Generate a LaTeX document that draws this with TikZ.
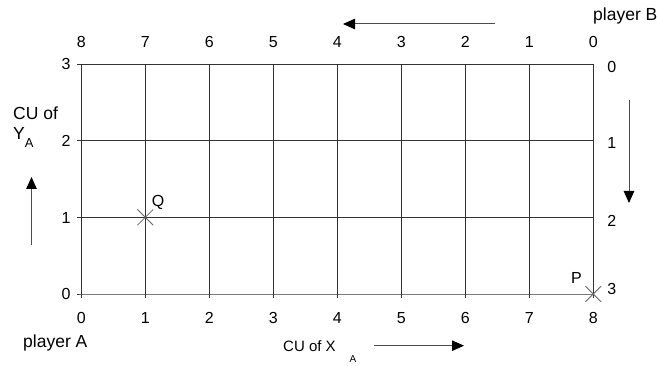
\documentclass[tikz,border=0pt]{standalone}
\usepackage{fontspec}
\setmainfont{Liberation Sans}
\usetikzlibrary{arrows.meta,positioning,shapes.misc}
\tikzset{
  num/.style={font=\fontsize{16}{18}\selectfont, inner sep=0pt, text height=11.5pt, text depth=0pt},
  lbl/.style={font=\fontsize{17.5}{20}\selectfont, inner sep=0pt, anchor=base west},
  gridln/.style={draw=black!80, line width=0.9pt},
  arr/.style={-{Triangle[length=12pt,width=10.5pt,color=black]}, draw=black!70, line width=1pt},
  xmark/.style={cross out, draw=black!60, minimum size=15pt, inner sep=0pt, line width=0.8pt},
}

\begin{document}
\begin{tikzpicture}[x=1pt,y=-1pt]
  \useasboundingbox (0,0) rectangle (657,366);
  % the box of bundles, in units of X_A and Y_A
  \begin{scope}[shift={(81.3,294)},x=64pt,y=76.67pt]
    \foreach \i in {0,...,8}
      \draw[gridln] (\i,3) -- (\i,0) -- ++(0,-4pt);
    \foreach \j in {0,...,3}
      \draw[gridln] (8,\j) -- (0,\j) -- ++(-4pt,0);
    \foreach \i in {0,...,8} {
      \pgfmathtruncatemacro\k{8-\i}
      \node[num, yshift=-23.5pt] (b\i) at (\i,0) {\i};
      \node[num, yshift=22pt] (t\k) at (\i,3) {\k};
    }
    \foreach \j in {0,...,3}
      \node[num, xshift=-15.3pt] (l\j) at (0,\j) {\j};
    \foreach \k/\dy in {0/-3,1/-2.5,2/-3,3/5}
      \node[num, xshift=18.5pt, yshift=\dy pt] (r\k) at (8,{3-\k}) {\k};
    \node[xmark] (Qx) at (1,1) {};
    \node[xmark] (Px) at (8,0) {};
  \end{scope}
  \node[num] (Q) at (158,200.5) {Q};
  \node[num] (P) at (576.5,277.5) {P};

  % players and axes
  \node[lbl] (plB) at (593,21) {player B};
  \node[lbl] (plA) at (23,348) {player A};
  \node[lbl] (cuy) at (13,120) {CU of};
  \node[lbl] (ya) at (13,140) {Y\raisebox{-8pt}{\fontsize{13}{13}\selectfont A}};
  \node[lbl, font=\fontsize{15}{18}\selectfont] (cux) at (283,352)
    {CU of X\hspace{14pt}\raisebox{-11pt}{\fontsize{10}{10}\selectfont A}};

  % directions
  \coordinate (topS) at (495,24);   \coordinate (topE) at (343,24);
  \coordinate (rgtS) at (629,100);  \coordinate (rgtE) at (629,203);
  \coordinate (lftS) at (31.5,245); \coordinate (lftE) at (31.5,177);
  \coordinate (botS) at (374,345.7);\coordinate (botE) at (464,345.7);
  \draw[arr] (topS) -- (topE);
  \draw[arr] (rgtS) -- (rgtE);
  \draw[arr] (lftS) -- (lftE);
  \draw[arr] (botS) -- (botE);
\end{tikzpicture}
\end{document}
